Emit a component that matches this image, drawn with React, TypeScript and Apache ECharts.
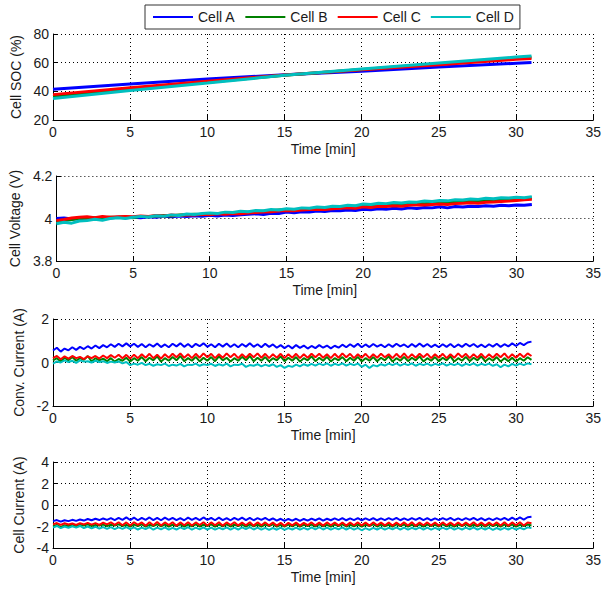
import React, { useEffect, useRef } from "react";
import * as echarts from "echarts";

const CELLS = ["Cell A", "Cell B", "Cell C", "Cell D"];
const COLORS = ["#0000ff", "#008000", "#ff0000", "#00bfbf"];
const FONT = "'Liberation Sans', Arial, Helvetica, sans-serif";

// ---- Cell SOC (%) ----
const SOC_TIME = [0, 5, 10, 15, 20, 25, 30, 31];
const SOC_A = [41.4, 45.2, 48.6, 51.6, 54.0, 57.0, 59.6, 60.1];
const SOC_B = [36.3, 41.5, 46.4, 51.3, 55.3, 59.2, 63.1, 63.7];
const SOC_C = [37.7, 42.5, 47.0, 51.4, 55.0, 58.6, 62.3, 62.9];
const SOC_D = [35.0, 40.6, 45.8, 51.2, 55.5, 59.8, 63.9, 64.7];

// ---- Cell Voltage (V), sampled every 0.5 min ----
const VOLT_STEP = 0.5;
const VOLT_A = [
  4.0, 4.002, 3.998, 4.0, 4.003, 4.0, 4.004, 4.002, 4.006, 4.003,
  4.006, 4.004, 4.008, 4.006, 4.01, 4.008, 4.012, 4.009, 4.013, 4.011,
  4.015, 4.012, 4.016, 4.014, 4.018, 4.02, 4.022, 4.019, 4.025, 4.023,
  4.03, 4.027, 4.032, 4.03, 4.035, 4.033, 4.038, 4.036, 4.04, 4.038,
  4.044, 4.041, 4.046, 4.043, 4.048, 4.045, 4.05, 4.047, 4.052, 4.05,
  4.055, 4.05, 4.056, 4.054, 4.058, 4.056, 4.06, 4.058, 4.062, 4.06,
  4.064, 4.062, 4.066,
];
const VOLT_B = [
  3.985, 3.99, 3.995, 4.0, 4.002, 4.004, 4.003, 4.006, 4.005, 4.008,
  4.004, 4.01, 4.008, 4.012, 4.014, 4.012, 4.016, 4.018, 4.02, 4.018,
  4.022, 4.024, 4.026, 4.024, 4.028, 4.03, 4.032, 4.034, 4.036, 4.04,
  4.042, 4.04, 4.044, 4.046, 4.048, 4.05, 4.052, 4.05, 4.055, 4.058,
  4.06, 4.062, 4.064, 4.062, 4.066, 4.068, 4.07, 4.072, 4.07, 4.074,
  4.076, 4.078, 4.08, 4.078, 4.082, 4.084, 4.086, 4.088, 4.09, 4.088,
  4.092, 4.094, 4.096,
];
const VOLT_C = [
  3.99, 3.995, 4.002, 4.006, 4.008, 4.004, 4.01, 4.006, 4.008, 4.01,
  4.008, 4.012, 4.01, 4.014, 4.012, 4.016, 4.014, 4.018, 4.016, 4.02,
  4.018, 4.022, 4.02, 4.024, 4.022, 4.026, 4.028, 4.03, 4.032, 4.035,
  4.038, 4.036, 4.04, 4.042, 4.044, 4.042, 4.046, 4.048, 4.05, 4.048,
  4.055, 4.052, 4.058, 4.056, 4.06, 4.058, 4.062, 4.065, 4.063, 4.066,
  4.068, 4.066, 4.07, 4.072, 4.074, 4.072, 4.076, 4.078, 4.08, 4.082,
  4.085, 4.088, 4.09,
];
const VOLT_D = [
  3.975, 3.982, 3.978, 3.988, 3.99, 3.996, 3.992, 4.0, 4.004, 4.0,
  4.006, 4.01, 4.007, 4.013, 4.011, 4.017, 4.014, 4.021, 4.019, 4.024,
  4.026, 4.023, 4.03, 4.028, 4.034, 4.032, 4.038, 4.036, 4.042, 4.04,
  4.046, 4.044, 4.05, 4.048, 4.054, 4.052, 4.058, 4.056, 4.062, 4.06,
  4.068, 4.066, 4.072, 4.07, 4.075, 4.073, 4.078, 4.077, 4.082, 4.08,
  4.085, 4.083, 4.088, 4.087, 4.092, 4.09, 4.095, 4.093, 4.098, 4.096,
  4.1, 4.098, 4.103,
];

// ---- Converter & cell currents (A), sampled every 0.25 min ----
const CUR_STEP = 0.25;
const CONV_A = [
  0.55, 0.68, 0.5, 0.64, 0.56, 0.7, 0.58, 0.72, 0.62, 0.75, 0.64, 0.78, 0.66, 0.8, 0.7, 0.84, 0.72, 0.86, 0.74, 0.88,
  0.74, 0.86, 0.72, 0.85, 0.7, 0.84, 0.73, 0.87, 0.71, 0.83, 0.7, 0.86, 0.74, 0.88, 0.72, 0.85, 0.7, 0.86, 0.75, 0.88,
  0.72, 0.84, 0.7, 0.86, 0.73, 0.87, 0.71, 0.84, 0.7, 0.85, 0.73, 0.88, 0.72, 0.84, 0.7, 0.86, 0.72, 0.83, 0.68, 0.8,
  0.66, 0.78, 0.65, 0.8, 0.67, 0.78, 0.64, 0.76, 0.66, 0.8, 0.68, 0.78, 0.65, 0.77, 0.68, 0.82, 0.7, 0.84, 0.72, 0.86,
  0.7, 0.83, 0.71, 0.85, 0.73, 0.82, 0.7, 0.84, 0.72, 0.86, 0.74, 0.83, 0.7, 0.85, 0.72, 0.87, 0.73, 0.85, 0.71, 0.82,
  0.7, 0.84, 0.72, 0.85, 0.7, 0.83, 0.72, 0.86, 0.74, 0.85, 0.71, 0.82, 0.7, 0.84, 0.73, 0.86, 0.72, 0.84, 0.74, 0.88,
  0.76, 0.9, 0.8, 0.92, 0.96,
];
const CONV_B = [
  0.1, 0.2, 0.05, 0.22, 0.1, 0.25, 0.08, 0.2, 0.12, 0.3, 0.05, 0.2, 0.1, 0.18, 0.06, 0.2, 0.04, 0.16, 0.08, 0.22,
  0.05, 0.2, 0.08, 0.25, 0.06, 0.22, 0.1, 0.28, 0.04, 0.2, 0.08, 0.25, 0.1, 0.3, 0.06, 0.2, 0.08, 0.26, 0.05, 0.22,
  0.08, 0.25, 0.06, 0.28, 0.1, 0.22, 0.05, 0.2, 0.08, 0.26, 0.1, 0.3, 0.06, 0.22, 0.08, 0.25, 0.05, 0.2, 0.1, 0.28,
  0.06, 0.22, 0.08, 0.25, 0.04, 0.2, 0.1, 0.28, 0.06, 0.22, 0.08, 0.26, 0.05, 0.2, 0.1, 0.25, 0.06, 0.22, 0.08, 0.26,
  0.05, 0.2, 0.08, 0.25, 0.06, 0.22, 0.1, 0.28, 0.04, 0.2, 0.08, 0.26, 0.06, 0.22, 0.1, 0.28, 0.05, 0.2, 0.08, 0.25,
  0.06, 0.22, 0.1, 0.28, 0.04, 0.2, 0.08, 0.26, 0.06, 0.22, 0.1, 0.28, 0.05, 0.2, 0.08, 0.25, 0.04, 0.2, 0.06, 0.22,
  0.04, 0.2, 0.08, 0.24, 0.12,
];
const CONV_C = [
  0.2, 0.3, 0.15, 0.28, 0.18, 0.3, 0.2, 0.26, 0.16, 0.28, 0.2, 0.3, 0.18, 0.32, 0.2, 0.34, 0.22, 0.36, 0.2, 0.35,
  0.18, 0.36, 0.2, 0.38, 0.22, 0.4, 0.2, 0.36, 0.18, 0.38, 0.22, 0.4, 0.24, 0.42, 0.22, 0.38, 0.2, 0.4, 0.22, 0.42,
  0.24, 0.4, 0.2, 0.38, 0.22, 0.42, 0.24, 0.4, 0.2, 0.38, 0.22, 0.4, 0.24, 0.42, 0.22, 0.4, 0.2, 0.38, 0.22, 0.4,
  0.2, 0.38, 0.22, 0.4, 0.2, 0.38, 0.22, 0.4, 0.24, 0.4, 0.22, 0.38, 0.2, 0.4, 0.22, 0.42, 0.24, 0.4, 0.2, 0.38,
  0.22, 0.4, 0.2, 0.38, 0.22, 0.4, 0.24, 0.38, 0.2, 0.4, 0.22, 0.42, 0.2, 0.38, 0.22, 0.4, 0.24, 0.4, 0.2, 0.38,
  0.22, 0.4, 0.2, 0.38, 0.22, 0.42, 0.24, 0.4, 0.2, 0.38, 0.22, 0.4, 0.2, 0.38, 0.22, 0.4, 0.24, 0.42, 0.2, 0.38,
  0.22, 0.4, 0.24, 0.42, 0.3,
];
const CONV_D = [
  -0.05, 0.05, 0.0, 0.1, 0.02, 0.08, -0.02, 0.1, 0.04, 0.06, 0.0, 0.08, 0.02, 0.06, -0.02, 0.04, 0.0, 0.05, -0.04, 0.02,
  -0.12, -0.05, -0.1, -0.02, -0.12, -0.06, -0.15, -0.08, -0.12, -0.05, -0.16, -0.1, -0.14, -0.06, -0.18, -0.1, -0.12, -0.05, -0.15, -0.08,
  -0.12, -0.06, -0.16, -0.08, -0.14, -0.05, -0.18, -0.1, -0.12, -0.06, -0.2, -0.12, -0.15, -0.08, -0.18, -0.1, -0.16, -0.08, -0.2, -0.12,
  -0.25, -0.15, -0.2, -0.1, -0.18, -0.08, -0.15, -0.06, -0.14, -0.05, -0.12, -0.04, -0.15, -0.06, -0.12, -0.04, -0.14, -0.06, -0.12, -0.05,
  -0.2, -0.1, -0.25, -0.12, -0.18, -0.08, -0.14, -0.05, -0.12, -0.04, -0.14, -0.06, -0.12, -0.04, -0.15, -0.06, -0.12, -0.05, -0.14, -0.06,
  -0.12, -0.04, -0.14, -0.06, -0.12, -0.05, -0.15, -0.06, -0.12, -0.04, -0.14, -0.06, -0.12, -0.05, -0.15, -0.08, -0.22, -0.1, -0.18, -0.06,
  -0.14, -0.05, -0.12, -0.04, -0.08,
];

const CELLCUR_A = [
  -1.5, -1.4, -1.55, -1.42, -1.5, -1.38, -1.48, -1.35, -1.45, -1.3, -1.42, -1.28, -1.4, -1.25, -1.38, -1.22, -1.4, -1.2, -1.38, -1.15,
  -1.4, -1.18, -1.42, -1.2, -1.38, -1.16, -1.4, -1.2, -1.42, -1.18, -1.38, -1.2, -1.4, -1.22, -1.42, -1.18, -1.38, -1.2, -1.4, -1.16,
  -1.38, -1.2, -1.42, -1.18, -1.4, -1.22, -1.42, -1.2, -1.38, -1.18, -1.4, -1.2, -1.42, -1.22, -1.38, -1.2, -1.42, -1.24, -1.45, -1.28,
  -1.48, -1.3, -1.45, -1.28, -1.48, -1.3, -1.45, -1.26, -1.42, -1.24, -1.45, -1.28, -1.42, -1.25, -1.4, -1.22, -1.42, -1.25, -1.4, -1.22,
  -1.42, -1.24, -1.4, -1.22, -1.42, -1.25, -1.4, -1.22, -1.38, -1.2, -1.42, -1.24, -1.4, -1.22, -1.38, -1.2, -1.4, -1.22, -1.42, -1.25,
  -1.4, -1.22, -1.38, -1.2, -1.42, -1.24, -1.4, -1.22, -1.38, -1.2, -1.4, -1.22, -1.42, -1.25, -1.4, -1.22, -1.38, -1.2, -1.4, -1.18,
  -1.38, -1.16, -1.35, -1.14, -1.1,
];
const CELLCUR_B = [
  -1.95, -1.85, -2.05, -1.88, -1.98, -1.82, -1.95, -1.85, -1.9, -1.8, -1.95, -1.85, -1.92, -1.82, -1.96, -1.84, -1.92, -1.8, -1.95, -1.85,
  -2.0, -1.82, -1.96, -1.8, -2.02, -1.84, -1.95, -1.8, -1.98, -1.82, -2.0, -1.84, -1.96, -1.8, -2.02, -1.82, -1.98, -1.8, -2.0, -1.84,
  -1.96, -1.8, -2.02, -1.82, -1.98, -1.8, -2.0, -1.84, -1.96, -1.82, -2.02, -1.8, -1.98, -1.84, -2.0, -1.82, -1.96, -1.8, -2.02, -1.84,
  -2.0, -1.82, -1.98, -1.8, -2.02, -1.84, -1.96, -1.82, -2.0, -1.8, -1.98, -1.84, -2.02, -1.82, -1.96, -1.8, -2.0, -1.84, -1.98, -1.82,
  -2.02, -1.84, -1.96, -1.8, -2.0, -1.82, -1.98, -1.84, -2.02, -1.8, -1.96, -1.82, -2.0, -1.84, -1.98, -1.8, -2.02, -1.82, -1.96, -1.84,
  -2.0, -1.8, -1.98, -1.84, -2.02, -1.82, -1.96, -1.8, -2.0, -1.84, -1.98, -1.82, -2.02, -1.8, -1.96, -1.84, -2.0, -1.82, -1.98, -1.8,
  -2.02, -1.84, -1.96, -1.82, -1.9,
];
const CELLCUR_C = [
  -1.8, -1.68, -1.85, -1.7, -1.82, -1.72, -1.85, -1.7, -1.8, -1.66, -1.82, -1.68, -1.85, -1.65, -1.8, -1.62, -1.85, -1.6, -1.88, -1.62,
  -1.9, -1.6, -1.85, -1.62, -1.92, -1.6, -1.88, -1.58, -1.9, -1.62, -1.86, -1.6, -1.92, -1.62, -1.88, -1.6, -1.9, -1.62, -1.86, -1.6,
  -1.9, -1.62, -1.88, -1.6, -1.92, -1.62, -1.86, -1.6, -1.9, -1.64, -1.88, -1.6, -1.92, -1.62, -1.88, -1.62, -1.9, -1.64, -1.92, -1.66,
  -1.94, -1.66, -1.9, -1.64, -1.92, -1.66, -1.88, -1.62, -1.9, -1.64, -1.92, -1.62, -1.88, -1.64, -1.9, -1.62, -1.92, -1.64, -1.88, -1.62,
  -1.9, -1.64, -1.92, -1.62, -1.88, -1.64, -1.9, -1.62, -1.92, -1.64, -1.88, -1.62, -1.9, -1.6, -1.92, -1.64, -1.88, -1.62, -1.9, -1.64,
  -1.92, -1.62, -1.88, -1.64, -1.9, -1.62, -1.92, -1.64, -1.88, -1.6, -1.9, -1.62, -1.92, -1.64, -1.88, -1.62, -1.9, -1.6, -1.92, -1.62,
  -1.88, -1.6, -1.9, -1.62, -1.7,
];
const CELLCUR_D = [
  -2.1, -1.95, -2.15, -2.0, -2.12, -1.98, -2.1, -1.95, -2.15, -2.0, -2.18, -2.02, -2.2, -2.05, -2.22, -2.05, -2.25, -2.08, -2.22, -2.05,
  -2.25, -2.08, -2.28, -2.1, -2.25, -2.06, -2.3, -2.1, -2.26, -2.08, -2.3, -2.12, -2.28, -2.08, -2.25, -2.06, -2.3, -2.1, -2.26, -2.08,
  -2.28, -2.1, -2.3, -2.12, -2.26, -2.08, -2.3, -2.1, -2.28, -2.08, -2.25, -2.06, -2.28, -2.1, -2.3, -2.12, -2.32, -2.14, -2.3, -2.1,
  -2.32, -2.14, -2.28, -2.1, -2.3, -2.12, -2.28, -2.08, -2.26, -2.06, -2.28, -2.1, -2.3, -2.12, -2.26, -2.08, -2.28, -2.1, -2.3, -2.12,
  -2.35, -2.15, -2.32, -2.12, -2.28, -2.1, -2.3, -2.12, -2.26, -2.08, -2.28, -2.1, -2.3, -2.12, -2.26, -2.08, -2.28, -2.1, -2.3, -2.12,
  -2.28, -2.1, -2.26, -2.08, -2.3, -2.12, -2.28, -2.1, -2.26, -2.08, -2.3, -2.12, -2.28, -2.1, -2.32, -2.14, -2.3, -2.12, -2.28, -2.1,
  -2.3, -2.12, -2.26, -2.08, -2.15,
];

const X_MIN = 0;
const X_MAX = 35;
const X_INTERVAL = 5;

type Panel = {
  name: string;
  min: number;
  max: number;
  interval: number;
  top: number;
  height: number;
  nameGap: number;
  width: number;
  series: [number, number][][];
};

const withTime = (times: number[], vals: number[]) =>
  vals.map((v, i) => [times[i], v] as [number, number]);
const withStep = (step: number, vals: number[]) =>
  vals.map((v, i) => [i * step, v] as [number, number]);

const PANELS: Panel[] = [
  {
    name: "Cell SOC (%)", min: 20, max: 80, interval: 20, top: 34, height: 86, nameGap: 29, width: 3,
    series: [SOC_A, SOC_B, SOC_C, SOC_D].map((s) => withTime(SOC_TIME, s)),
  },
  {
    name: "Cell Voltage (V)", min: 3.8, max: 4.2, interval: 0.2, top: 176, height: 85, nameGap: 34, width: 3,
    series: [VOLT_A, VOLT_B, VOLT_C, VOLT_D].map((s) => withStep(VOLT_STEP, s)),
  },
  {
    name: "Conv. Current (A)", min: -2, max: 2, interval: 2, top: 319, height: 87, nameGap: 23, width: 2,
    series: [CONV_A, CONV_B, CONV_C, CONV_D].map((s) => withStep(CUR_STEP, s)),
  },
  {
    name: "Cell Current (A)", min: -4, max: 4, interval: 2, top: 462, height: 86, nameGap: 23, width: 2,
    series: [CELLCUR_A, CELLCUR_B, CELLCUR_C, CELLCUR_D].map((s) => withStep(CUR_STEP, s)),
  },
];

export default function App() {
  const ref = useRef<HTMLDivElement>(null);
  useEffect(() => {
    if (!ref.current) return;
    const chart = echarts.init(ref.current, undefined, { renderer: "svg" });
    const axisText = { fontSize: 14, color: "#1a1a1a", fontFamily: FONT };
    const grid = PANELS.map((p) => ({ left: 53, right: 9, top: p.top, height: p.height }));
    const xAxis = PANELS.map((p, i) => ({
      type: "value",
      gridIndex: i,
      min: X_MIN,
      max: X_MAX,
      interval: X_INTERVAL,
      name: "Time [min]",
      nameLocation: "middle",
      nameGap: 22,
      nameTextStyle: axisText,
      axisLine: { show: true, onZero: false, lineStyle: { color: "#000", width: 1 } },
      axisTick: { show: true, inside: true, length: 5, lineStyle: { color: "#000" } },
      axisLabel: { ...axisText, margin: 5 },
      splitLine: { show: true, lineStyle: { color: "#000", type: [1, 3], width: 1 } },
    }));
    const yAxis = PANELS.map((p, i) => ({
      type: "value",
      gridIndex: i,
      min: p.min,
      max: p.max,
      interval: p.interval,
      name: p.name,
      nameLocation: "middle",
      nameRotate: 90,
      nameGap: p.nameGap,
      nameTextStyle: axisText,
      axisLine: { show: true, onZero: false, lineStyle: { color: "#000", width: 1 } },
      axisTick: { show: true, inside: true, length: 5, lineStyle: { color: "#000" } },
      axisLabel: { ...axisText, margin: 4 },
      splitLine: { show: true, lineStyle: { color: "#000", type: [1, 3], width: 1 } },
    }));
    const series: any[] = [];
    PANELS.forEach((p, i) => {
      p.series.forEach((data, c) => {
        series.push({
          type: "line",
          name: CELLS[c],
          xAxisIndex: i,
          yAxisIndex: i,
          data,
          symbol: "none",
          silent: true,
          lineStyle: { color: COLORS[c], width: p.width },
          itemStyle: { color: COLORS[c] },
        });
      });
    });
    chart.setOption({
      animation: false,
      backgroundColor: "#fff",
      legend: {
        top: 5,
        left: 145,
        orient: "horizontal",
        icon: "rect",
        itemWidth: 40,
        itemHeight: 2,
        itemGap: 10,
        padding: [5, 6, 5, 8],
        borderColor: "#333",
        borderWidth: 1,
        textStyle: { fontSize: 14, color: "#1a1a1a", fontFamily: FONT },
        data: CELLS.map((n, c) => ({ name: n, itemStyle: { color: COLORS[c] } })),
      },
      grid,
      xAxis,
      yAxis,
      series,
    });
    return () => chart.dispose();
  }, []);
  return (
    <div
      ref={ref}
      style={{ position: "fixed", left: 0, top: 0, width: 604, height: 590, background: "#fff" }}
    />
  );
}
